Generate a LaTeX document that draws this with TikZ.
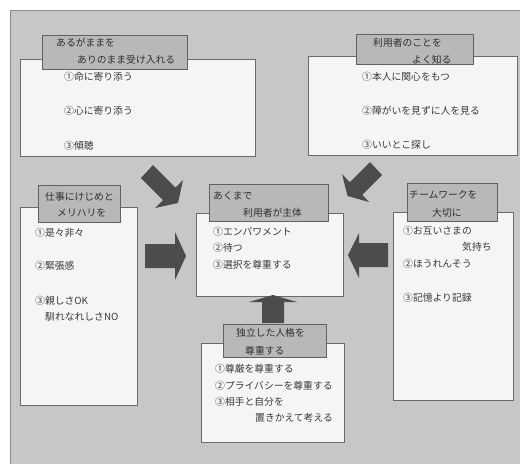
\documentclass[tikz,border=0pt]{standalone}
\usepackage{fontspec}
\setmainfont{Noto Sans CJK JP}
\begin{document}
\begin{tikzpicture}[x=1pt,y=-1pt,
  wbox/.style={draw=black!58,line width=0.8pt,fill=black!4,inner sep=0pt},
  tbox/.style={draw=black!62,line width=0.8pt,fill=black!28,inner sep=0pt},
  txt/.style={anchor=west,inner sep=0pt,text=black!78,font=\fontsize{9.8}{11}\selectfont},
  ttl/.style={anchor=west,inner sep=0pt,text=black!82,font=\fontsize{9.8}{11}\selectfont},
  bigarrow/.style={fill=black!70,draw=none}]
\useasboundingbox (0,0) rectangle (520,464);
\fill[white] (0,0) rectangle (520,464);
\fill[black!22] (10,10) rectangle (520,464);
\draw[black!45,line width=0.6pt] (10,464) -- (10,10) -- (520,10);

% top-left
\node[wbox,minimum width=235pt,minimum height=97pt] (tlw) at (137.5,107.5) {};
\node[tbox,minimum width=145pt,minimum height=34pt] (tlt) at (114.5,52) {};
\node[ttl] (tlt1) at (56,43) {あるがままを};
\node[ttl] (tlt2) at (77,60) {ありのまま受け入れる};
\node[txt] (tl1) at (64,77) {①命に寄り添う};
\node[txt] (tl2) at (64,111) {②心に寄り添う};
\node[txt] (tl3) at (64,146) {③傾聴};

% top-right
\node[wbox,minimum width=209pt,minimum height=99pt] (trw) at (412.5,105.5) {};
\node[tbox,minimum width=117pt,minimum height=30pt] (trt) at (414.5,49) {};
\node[ttl] (trt1) at (373,43) {利用者のことを};
\node[ttl] (trt2) at (412,60) {よく知る};
\node[txt] (tr1) at (362,77) {①本人に関心をもつ};
\node[txt] (tr2) at (362,111) {②障がいを見ずに人を見る};
\node[txt] (tr3) at (362,145) {③いいとこ探し};

% left
\node[wbox,minimum width=117pt,minimum height=198pt] (lw) at (78.5,306) {};
\node[tbox,minimum width=82pt,minimum height=37pt] (lt) at (79,203.5) {};
\node[ttl] (lt1) at (45,197) {仕事にけじめと};
\node[ttl] (lt2) at (57,213) {メリハリを};
\node[txt] (l1) at (35,233) {①是々非々};
\node[txt] (l2) at (35,266) {②緊張感};
\node[txt] (l3) at (35,301) {③親しさOK};
\node[txt] (l4) at (45,317) {馴れなれしさNO};

% center
\node[wbox,minimum width=147pt,minimum height=83pt] (cw) at (269.5,254.5) {};
\node[tbox,minimum width=119pt,minimum height=37pt] (ct) at (268.5,202.5) {};
\node[ttl] (ct1) at (213,196) {あくまで};
\node[ttl] (ct2) at (243,213) {利用者が主体};
\node[txt] (c1) at (213,232) {①エンパワメント};
\node[txt] (c2) at (213,248) {②待つ};
\node[txt] (c3) at (213,265) {③選択を尊重する};

% right
\node[wbox,minimum width=120pt,minimum height=188pt] (rw) at (453,306) {};
\node[tbox,minimum width=90pt,minimum height=38pt] (rt) at (452,202) {};
\node[ttl] (rt1) at (409,195) {チームワークを};
\node[ttl] (rt2) at (432,213) {大切に};
\node[txt] (r1) at (403,231) {①お互いさまの};
\node[txt] (r2) at (462,247) {気持ち};
\node[txt] (r3) at (403,264) {②ほうれんそう};
\node[txt] (r4) at (403,298) {③記憶より記録};

% bottom
\node[wbox,minimum width=143pt,minimum height=99pt] (bw) at (272.5,392.5) {};
\node[tbox,minimum width=103pt,minimum height=33pt] (bt) at (274.5,340.5) {};
\node[ttl] (bt1) at (236,333) {独立した人格を};
\node[ttl] (bt2) at (245,351) {尊重する};
\node[txt] (b1) at (215,369) {①尊厳を尊重する};
\node[txt] (b2) at (215,386) {②プライバシーを尊重する};
\node[txt] (b3) at (215,402) {③相手と自分を};
\node[txt] (b4) at (255,418) {置きかえて考える};

% arrows
\fill[bigarrow] (141,178) -- (153,165) -- (175.5,187.5) -- (183,180) -- (178,203) -- (155,208) -- (163,200) -- cycle;
\fill[bigarrow] (370,162) -- (382,175) -- (362.25,194.75) -- (369,202) -- (347.5,196) -- (342,174) -- (349.75,182.25) -- cycle;
\fill[bigarrow] (145,244) -- (175,244) -- (175,232) -- (186,256) -- (175,280) -- (175,268) -- (145,268) -- cycle;
\fill[bigarrow] (388,243) -- (359,243) -- (359,233) -- (348,255) -- (359,278) -- (359,267) -- (388,267) -- cycle;
\fill[bigarrow] (262,323) -- (262,302) -- (249,302) -- (273,295) -- (297,302) -- (284,302) -- (284,323) -- cycle;
\end{tikzpicture}
\end{document}
